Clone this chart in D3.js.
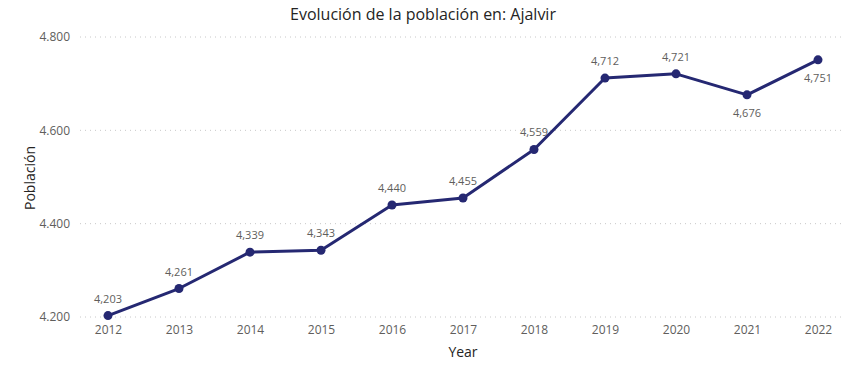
<!DOCTYPE html>
<html><head><meta charset="utf-8">
<script src="https://cdn.jsdelivr.net/npm/d3@7"></script>
<style>body{margin:0;background:#fff;}svg{display:block;font-family:"Segoe UI","Open Sans","Noto Sans",sans-serif;}</style>
</head><body>
<svg id="c" width="846" height="367"></svg>
<script>
const years = [2012,2013,2014,2015,2016,2017,2018,2019,2020,2021,2022];
const population = [4203,4261,4339,4343,4440,4455,4559,4712,4721,4676,4751];
const dataLabels = ["4,203","4,261","4,339","4,343","4,440","4,455","4,559","4,712","4,721","4,676","4,751"];
const labelBelow = [false,false,false,false,false,false,false,false,false,true,true];
const yTicks = [4200,4400,4600,4800];
const yTickLabels = ["4.200","4.400","4.600","4.800"];

const svg = d3.select("#c");
const x = d3.scalePoint().domain(years).range([108,818]);
const y = d3.scaleLinear().domain([4200,4800]).range([317,37]);

svg.append("text").attr("x",423).attr("y",20).attr("text-anchor","middle")
  .attr("font-size",16).attr("fill","#252423").text("Evolución de la población en: Ajalvir");

// grid
svg.append("g").selectAll("line").data(yTicks).join("line")
  .attr("x1",80).attr("x2",842).attr("y1",d=>y(d)).attr("y2",d=>y(d))
  .attr("stroke","#c8c8c8").attr("stroke-dasharray","1,4").attr("stroke-width",1);

// y tick labels
svg.append("g").selectAll("text").data(yTicks).join("text")
  .attr("x",70).attr("y",d=>y(d)).attr("dy","0.35em").attr("text-anchor","end")
  .attr("font-size",12).attr("fill","#605e5c").text((d,i)=>yTickLabels[i]);

// x axis
const xAxis = d3.axisBottom(x).tickSize(0).tickPadding(0);
const gx = svg.append("g").attr("transform","translate(0,325)").call(xAxis);
gx.select(".domain").remove();
gx.selectAll("text").attr("font-size",12).attr("fill","#605e5c")
  .attr("font-family",'"Segoe UI","Open Sans","Noto Sans",sans-serif').attr("dy","0.71em");

svg.append("text").attr("x",463).attr("y",357).attr("text-anchor","middle")
  .attr("font-size",14).attr("fill","#252423").text("Year");
svg.append("text").attr("transform","translate(35,178) rotate(-90)").attr("text-anchor","middle")
  .attr("font-size",14).attr("fill","#252423").text("Población");

const line = d3.line().x((d,i)=>x(years[i])).y(d=>y(d));
svg.append("path").datum(population).attr("d",line).attr("fill","none")
  .attr("stroke","#252872").attr("stroke-width",3).attr("stroke-linejoin","round");

svg.append("g").selectAll("circle").data(population).join("circle")
  .attr("cx",(d,i)=>x(years[i])).attr("cy",d=>y(d)).attr("r",4.5).attr("fill","#252872");

svg.append("g").selectAll("text").data(population).join("text")
  .attr("x",(d,i)=>x(years[i])).attr("y",(d,i)=>labelBelow[i]? y(d)+22 : y(d)-13)
  .attr("text-anchor","middle").attr("font-size",11).attr("fill","#605e5c")
  .text((d,i)=>dataLabels[i]);
</script>
</body></html>
